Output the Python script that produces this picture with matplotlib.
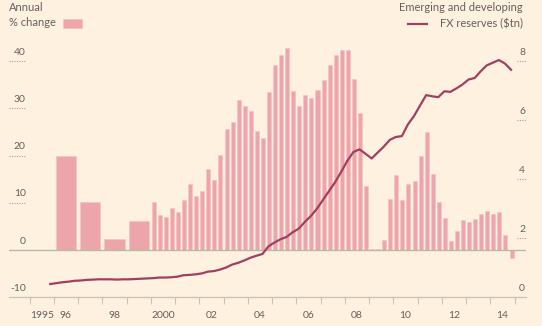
import numpy as np
import matplotlib.pyplot as plt
import matplotlib.transforms as mtransforms
from matplotlib.patches import Rectangle
from matplotlib.lines import Line2D

plt.rcParams['font.family'] = ['Lato', 'DejaVu Sans']

# Annual % change, 1996-1999
anos_anuais = [1996, 1997, 1998, 1999]
var_anual = [20.0, 10.2, 2.3, 6.1]

# Quarterly % change, 2000Q1 - 2014Q4
var_trimestral = [
    10.2, 7.3, 6.9, 8.8,      # 2000
    8.1, 10.5, 13.9, 11.5,    # 2001
    12.5, 17.2, 14.8, 20.1,   # 2002
    25.7, 27.1, 31.7, 30.4,   # 2003
    29.4, 25.3, 23.8, 33.4,   # 2004
    39.1, 41.3, 42.8, 33.6,   # 2005
    30.4, 32.8, 32.1, 33.8,   # 2006
    36.0, 39.1, 41.4, 42.4,   # 2007
    42.4, 36.2, 29.1, 13.6,   # 2008
    0.2, 0.1, 2.1, 10.8,      # 2009
    15.9, 10.6, 13.9, 14.6,   # 2010
    19.8, 24.9, 16.1, 10.2,   # 2011
    6.8, 1.8, 4.1, 6.4,       # 2012
    5.8, 6.6, 7.5, 8.3,       # 2013
    7.6, 8.1, 3.2, -1.7,      # 2014
]
inicio_trimestral = 2000

# FX reserves ($tn), quarterly from 1995Q4
reservas = [
    0.44,                     # 1995Q4
    0.47, 0.50, 0.52, 0.55,   # 1996
    0.56, 0.58, 0.59, 0.60,   # 1997
    0.60, 0.60, 0.59, 0.60,   # 1998
    0.60, 0.61, 0.62, 0.63,   # 1999
    0.64, 0.66, 0.66, 0.67,   # 2000
    0.69, 0.74, 0.75, 0.77,   # 2001
    0.80, 0.86, 0.88, 0.93,   # 2002
    1.00, 1.10, 1.16, 1.24,   # 2003
    1.33, 1.40, 1.46, 1.72,   # 2004
    1.85, 1.96, 2.04, 2.20,   # 2005
    2.32, 2.55, 2.75, 3.00,   # 2006
    3.30, 3.60, 3.90, 4.25,   # 2007
    4.62, 4.92, 5.01, 4.86,   # 2008
    4.70, 4.90, 5.10, 5.33,   # 2009
    5.43, 5.46, 5.86, 6.14,   # 2010
    6.50, 6.85, 6.81, 6.78,   # 2011
    6.98, 6.96, 7.08, 7.21,   # 2012
    7.38, 7.43, 7.66, 7.86,   # 2013
    7.95, 8.04, 7.92, 7.71,   # 2014
]
inicio_reservas = 1995.75

rotulos_esq = [-10, 0, 10, 20, 30, 40]
rotulos_dir = [0, 2, 4, 6, 8]
rotulos_x = ['1995', '96', '98', '2000', '02', '04', '06', '08', '10', '12', '14']
anos_rotulos = [1995, 1996, 1998, 2000, 2002, 2004, 2006, 2008, 2010, 2012, 2014]

fundo = '#fff1e0'
cor_barra = '#eca6ab'
cor_borda = '#f6c3c5'
cor_linha = '#a13f60'
cor_texto = '#66605c'

fig = plt.figure(figsize=(5.42, 3.26), dpi=100)
fig.patch.set_facecolor(fundo)
ax = fig.add_axes([8.6 / 542, 29 / 326, 517 / 542, 257 / 326])
ax.set_facecolor(fundo)
ax2 = ax.twinx()

# Bars
ax.bar(np.array(anos_anuais) + 0.5, var_anual, width=0.84,
       color=cor_barra, edgecolor=cor_borda, linewidth=0.6, zorder=2)
xq = inicio_trimestral + np.arange(len(var_trimestral)) * 0.25 + 0.12
ax.bar(xq, var_trimestral, width=0.165,
       color=cor_barra, edgecolor=cor_borda, linewidth=0.5, zorder=2)

ax.axhline(0, color='#b7b9a9', lw=1.0, zorder=3)

# Reserves line
xr = inicio_reservas + np.arange(len(reservas)) * 0.25 + 0.1
ax2.plot(xr, reservas, color=cor_linha, lw=1.6, solid_joinstyle='round', zorder=4)

ax.set_xlim(1994.134, 2015.45)
ax.set_ylim(-10, 44.5)
ax2.set_ylim(0, 54.5 * 0.16)

for a in (ax, ax2):
    for s in a.spines.values():
        s.set_visible(False)
    a.set_yticks([])
ax.spines['bottom'].set_visible(True)
ax.spines['bottom'].set_color('#c9c4ba')
ax.spines['bottom'].set_linewidth(1.0)

# Year ticks at boundaries, labels in the middle of each year
ax.set_xticks(np.arange(1995, 2016))
ax.set_xticklabels([])
ax.tick_params(axis='x', which='major', length=5, width=0.8, color='#c9c4ba')
ax.set_xticks(np.array(anos_rotulos) + 0.5, minor=True)
ax.set_xticklabels(rotulos_x, minor=True)
ax.tick_params(axis='x', which='minor', length=0, pad=10, labelsize=7.5,
               labelcolor=cor_texto)

# Y labels drawn inside the plot, with short dotted rules
px = 1 / 517
trans_esq = mtransforms.blended_transform_factory(ax.transAxes, ax.transData)
for v in rotulos_esq:
    ax.text(17 * px, v + 0.9, str(v), transform=trans_esq, ha='right', va='bottom',
            fontsize=7.5, color=cor_texto)
    if v != 0 and v != -10:
        ax.plot([0, 17.5 * px], [v, v], transform=trans_esq, color='#aaa59d',
                lw=0.8, ls=(0, (1, 1.2)), clip_on=False)

trans_dir = mtransforms.blended_transform_factory(ax2.transAxes, ax2.transData)
for v in rotulos_dir:
    ax2.text(516.5 * px, v + 0.14, str(v), transform=trans_dir, ha='right', va='bottom',
             fontsize=7.5, color=cor_texto)
    if v != 0:
        ax2.plot([508 * px, 517.5 * px], [v, v], transform=trans_dir, color='#aaa59d',
                 lw=0.8, ls=(0, (1, 1.2)), clip_on=False)

# Legend / headings
fig.text(9 / 542, 1 - 10.7 / 326, 'Annual', fontsize=8, color=cor_texto, va='baseline')
fig.text(9 / 542, 1 - 26.5 / 326, '% change', fontsize=8, color=cor_texto, va='baseline')
fig.patches.append(Rectangle((63.3 / 542, 1 - 27.7 / 326), 18.4 / 542, 8.7 / 326,
                             transform=fig.transFigure, facecolor=cor_barra,
                             edgecolor=cor_borda, lw=0.6))

fig.text(523 / 542, 1 - 11 / 326, 'Emerging and developing', fontsize=8,
         color=cor_texto, ha='right', va='baseline')
fig.text(523 / 542, 1 - 27 / 326, 'FX reserves ($tn)', fontsize=8,
         color=cor_texto, ha='right', va='baseline')
fig.lines.append(Line2D([408.3 / 542, 427.3 / 542], [1 - 23.5 / 326, 1 - 23.5 / 326],
                        transform=fig.transFigure, color=cor_linha, lw=1.6))

fig.savefig('out.png', dpi=100, facecolor=fundo)
